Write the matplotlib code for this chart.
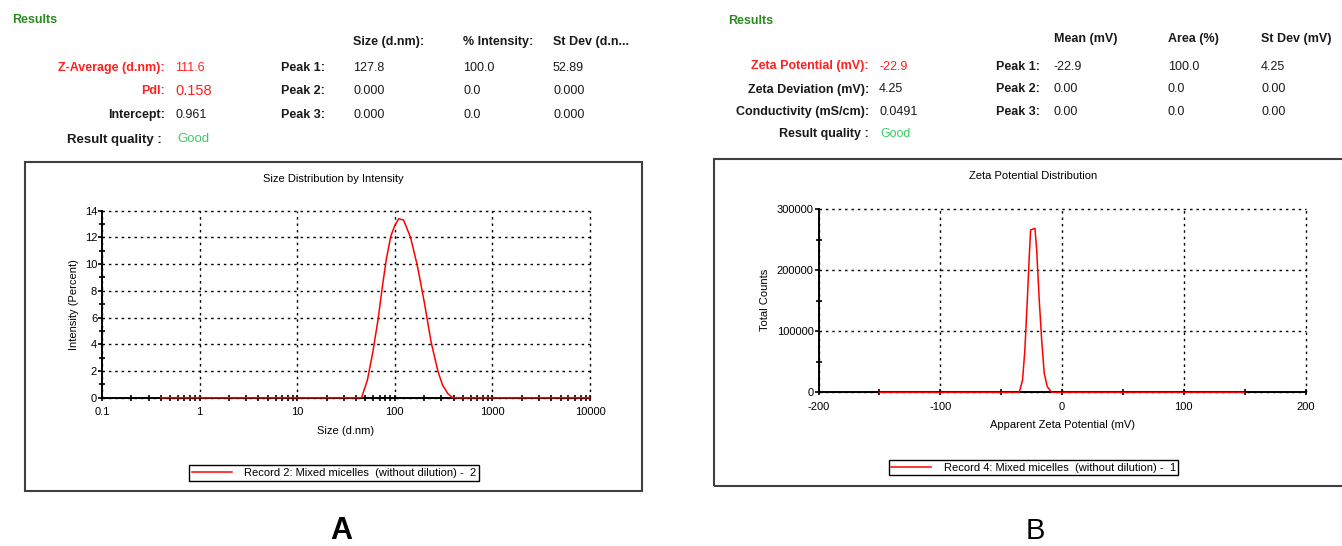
import matplotlib
matplotlib.use("Agg")
import matplotlib.pyplot as plt
from matplotlib.patches import Rectangle
from matplotlib.ticker import FixedLocator, NullFormatter, FuncFormatter

plt.rcParams['font.family'] = ['Liberation Sans', 'DejaVu Sans']

# ---------------- data ----------------
size_nm = [0.4, 45.6, 52.3, 59.5, 67.5, 75.5, 82.0, 91.0, 100.0, 109.5, 123.0,
           145.0, 170.0, 200.0, 235.0, 276.0, 308.0, 350.0, 392.0, 10000.0]
intensity_pct = [0, 0, 1.3, 3.4, 5.9, 8.6, 10.4, 12.1, 12.9, 13.4, 13.3,
                 12.0, 9.9, 7.2, 4.2, 2.0, 0.95, 0.3, 0, 0]

zeta_mv = [-150, -35.1, -32.4, -30.5, -28.5, -26.9, -25.8, -22.2, -20.8,
           -18.7, -16.7, -14.6, -12.1, -8.5, 150]
zeta_counts = [0, 0, 20200, 69300, 151300, 222300, 266000, 268800, 233300,
               151300, 85700, 31100, 9200, 0, 0]

size_xticks = [0.1, 1, 10, 100, 1000, 10000]
size_xticklabels = ["0.1", "1", "10", "100", "1000", "10000"]
size_yticks = [0, 2, 4, 6, 8, 10, 12, 14]
zeta_xticks = [-200, -100, 0, 100, 200]
zeta_yticks = [0, 100000, 200000, 300000]

legend_a = "Record 2: Mixed micelles  (without dilution) -  2"
legend_b = "Record 4: Mixed micelles  (without dilution) -  1"

# results tables
res_a_headers = ["Size (d.nm):", "% Intensity:", "St Dev (d.n..."]
res_a_labels = ["Z-Average (d.nm):", "PdI:", "Intercept:"]
res_a_values = ["111.6", "0.158", "0.961"]
res_a_peaks = ["Peak 1:", "Peak 2:", "Peak 3:"]
res_a_table = [["127.8", "100.0", "52.89"],
               ["0.000", "0.0", "0.000"],
               ["0.000", "0.0", "0.000"]]

res_b_headers = ["Mean (mV)", "Area (%)", "St Dev (mV)"]
res_b_labels = ["Zeta Potential (mV):", "Zeta Deviation (mV):", "Conductivity (mS/cm):"]
res_b_values = ["-22.9", "4.25", "0.0491"]
res_b_peaks = ["Peak 1:", "Peak 2:", "Peak 3:"]
res_b_table = [["-22.9", "100.0", "4.25"],
               ["0.00", "0.0", "0.00"],
               ["0.00", "0.0", "0.00"]]

# ---------------- figure ----------------
W, H = 1342, 546
fig = plt.figure(figsize=(W / 100, H / 100), dpi=100)
fig.patch.set_facecolor("white")


def fx(x):
    return x / W


def fy(y):
    return 1 - y / H


RED = "#ff2020"
GREEN_T = "#2a8a1e"
GOOD = "#3ccc66"
DARK = "#1a1a1a"
FS = 9

# ---------------- results text (A) ----------------
fig.text(fx(12), fy(20), "Results", color=GREEN_T, fontsize=FS, weight="bold", va="center")
hx_a = [353, 463, 553]
for x, t in zip(hx_a, res_a_headers):
    fig.text(fx(x), fy(42), t, fontsize=FS, weight="bold", color=DARK, va="center")
rows_a = [68, 91, 115]
lab_col = [RED, RED, DARK]
val_col = [RED, RED, DARK]
val_fs = [FS, FS + 1.5, FS]
for i, y in enumerate(rows_a):
    fig.text(fx(165), fy(y), res_a_labels[i], fontsize=FS, weight="bold", color=lab_col[i],
             ha="right", va="center")
    fig.text(fx(175), fy(y), res_a_values[i], fontsize=val_fs[i], color=val_col[i], va="center")
    fig.text(fx(281), fy(y), res_a_peaks[i], fontsize=FS, weight="bold", color=DARK, va="center")
    for x, t in zip(hx_a, res_a_table[i]):
        fig.text(fx(x), fy(y), t, fontsize=FS, color=DARK, va="center")
fig.text(fx(162), fy(140), "Result quality :", fontsize=FS + 0.5, weight="bold", color=DARK,
         ha="right", va="center")
fig.text(fx(177), fy(139), "Good", fontsize=FS + 0.5, color=GOOD, va="center")

# ---------------- results text (B) ----------------
fig.text(fx(728), fy(21), "Results", color=GREEN_T, fontsize=FS, weight="bold", va="center")
hx_b = [1054, 1168, 1261]
for x, t in zip(hx_b, res_b_headers):
    fig.text(fx(x), fy(39), t, fontsize=FS, weight="bold", color=DARK, va="center")
rows_b = [66.5, 89.5, 112]
lab_col_b = [RED, DARK, DARK]
val_col_b = [RED, DARK, DARK]
for i, y in enumerate(rows_b):
    fig.text(fx(869), fy(y), res_b_labels[i], fontsize=FS, weight="bold", color=lab_col_b[i],
             ha="right", va="center")
    fig.text(fx(879), fy(y), res_b_values[i], fontsize=FS, color=val_col_b[i], va="center")
    fig.text(fx(996), fy(y), res_b_peaks[i], fontsize=FS, weight="bold", color=DARK, va="center")
    for x, t in zip(hx_b, res_b_table[i]):
        fig.text(fx(x), fy(y), t, fontsize=FS, color=DARK, va="center")
fig.text(fx(869), fy(134), "Result quality :", fontsize=FS, weight="bold", color=DARK,
         ha="right", va="center")
fig.text(fx(880), fy(134), "Good", fontsize=FS, color=GOOD, va="center")

# ---------------- panel boxes ----------------
fig.patches.append(Rectangle((fx(25), fy(491)), fx(642) - fx(25), fy(162) - fy(491),
                             transform=fig.transFigure, fill=False, edgecolor="#404040",
                             linewidth=1.5))
fig.patches.append(Rectangle((fx(714), fy(486)), fx(1353) - fx(714), fy(159) - fy(486),
                             transform=fig.transFigure, fill=False, edgecolor="#404040",
                             linewidth=1.5))

GRID_LS = (0, (1.8, 2.8))


def style_axes(ax):
    for s in ("top", "right"):
        ax.spines[s].set_visible(False)
    for s in ("left", "bottom"):
        ax.spines[s].set_linewidth(1.4)
        ax.spines[s].set_color("black")
    ax.grid(True, which="major", color="black", linestyle=GRID_LS, linewidth=1.0)
    for gl in ax.get_xgridlines() + ax.get_ygridlines():
        gl.set_clip_on(False)
    ax.tick_params(axis="both", which="major", labelsize=8, colors="black", width=1.2)
    ax.tick_params(axis="x", which="major", direction="inout", length=4, pad=5)
    ax.tick_params(axis="y", which="major", direction="out", length=3, pad=0.5)
    ax.tick_params(axis="both", which="minor", direction="inout", length=4.5, width=1.2)
    ax.set_facecolor("none")


# ---------------- chart A ----------------
axA = fig.add_axes([fx(102), fy(397.7), fx(590) - fx(102), fy(210.7) - fy(397.7)])
axA.set_xscale("log")
axA.plot(size_nm, intensity_pct, color="#ff0000", linewidth=1.1, zorder=5,
         label=legend_a, clip_on=False)
axA.set_xlim(0.1, 10000)
axA.set_ylim(0, 14)
axA.xaxis.set_major_locator(FixedLocator(size_xticks))
axA.xaxis.set_major_formatter(FuncFormatter(lambda v, p: size_xticklabels[size_xticks.index(v)]
                                            if v in size_xticks else ""))
minors = [m * 10.0 ** e for e in range(-1, 4) for m in range(2, 10)]
axA.xaxis.set_minor_locator(FixedLocator(minors))
axA.xaxis.set_minor_formatter(NullFormatter())
axA.yaxis.set_major_locator(FixedLocator(size_yticks))
axA.yaxis.set_minor_locator(FixedLocator([1, 3, 5, 7, 9, 11, 13]))
style_axes(axA)
fig.text(fx(333.5), fy(179), "Size Distribution by Intensity", fontsize=8, ha="center", va="center")
fig.text(fx(346), fy(431), "Size (d.nm)", fontsize=8, ha="center", va="center")
fig.text(fx(74), fy(305), "Intensity (Percent)", fontsize=8, ha="center", va="center", rotation=90)

legA = fig.legend(handles=axA.get_lines(), labels=[legend_a], loc="center",
                  bbox_to_anchor=(fx(334), fy(473)), fontsize=8, frameon=True,
                  fancybox=False, edgecolor="black", framealpha=1, borderpad=0.25,
                  handlelength=3.6, handletextpad=1.1, borderaxespad=0)
legA.get_frame().set_linewidth(1.0)

# ---------------- chart B ----------------
axB = fig.add_axes([fx(818.5), fy(392.3), fx(1305.5) - fx(818.5), fy(209.3) - fy(392.3)])
axB.plot(zeta_mv, zeta_counts, color="#ff0000", linewidth=1.1, zorder=5,
         label=legend_b, clip_on=False)
axB.set_xlim(-200, 200)
axB.set_ylim(0, 300000)
axB.xaxis.set_major_locator(FixedLocator(zeta_xticks))
axB.xaxis.set_minor_locator(FixedLocator([-150, -50, 50, 150]))
axB.yaxis.set_major_locator(FixedLocator(zeta_yticks))
axB.yaxis.set_minor_locator(FixedLocator([50000, 150000, 250000]))
axB.xaxis.set_major_formatter(FuncFormatter(lambda v, p: "%d" % v))
axB.yaxis.set_major_formatter(FuncFormatter(lambda v, p: "%d" % v))
style_axes(axB)
fig.text(fx(1033.5), fy(176), "Zeta Potential Distribution", fontsize=8, ha="center", va="center")
fig.text(fx(1062), fy(425), "Apparent Zeta Potential (mV)", fontsize=8, ha="center", va="center")
fig.text(fx(765), fy(300), "Total Counts", fontsize=8, ha="center", va="center", rotation=90)

legB = fig.legend(handles=axB.get_lines(), labels=[legend_b], loc="center",
                  bbox_to_anchor=(fx(1033.5), fy(467.7)), fontsize=8, frameon=True,
                  fancybox=False, edgecolor="black", framealpha=1, borderpad=0.25,
                  handlelength=3.6, handletextpad=1.1, borderaxespad=0)
legB.get_frame().set_linewidth(1.0)

# ---------------- panel letters ----------------
fig.text(fx(341), fy(539), "A", fontsize=22, weight="bold", ha="center", va="baseline")
fig.text(fx(1035), fy(539), "B", fontsize=21, ha="center", va="baseline")

fig.savefig("out.png", dpi=100, facecolor="white")
